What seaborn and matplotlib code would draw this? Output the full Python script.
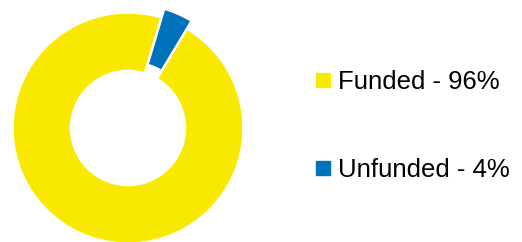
import matplotlib
matplotlib.use("Agg")
import matplotlib.pyplot as plt
from matplotlib.lines import Line2D
import seaborn as sns

sns.set_theme(style="white")
plt.rcParams["font.family"] = ["Liberation Sans", "DejaVu Sans"]

# Data
labels = ["Funded", "Unfunded"]
shares = [96, 4]
colors = ["#F9E800", "#0072BC"]
explode = [0, 0.08]

W, H = 522, 242
fig = plt.figure(figsize=(W / 100, H / 100), dpi=100)

# donut axes: centre (128, 128) px from top-left, outer radius 115 px
R, L = 115, 1.15
cx, cy = 128, H - 128
side = 2 * R * L
ax = fig.add_axes([(cx - side / 2) / W, (cy - side / 2) / H, side / W, side / H])
ax.pie(shares, colors=colors, explode=explode, startangle=59, counterclock=False,
       radius=1, wedgeprops=dict(width=0.5, edgecolor="white", linewidth=1))
ax.set_xlim(-L, L)
ax.set_ylim(-L, L)
ax.set_aspect("equal")
ax.axis("off")

handles = [Line2D([], [], marker="s", linestyle="none", markersize=9.5,
                  markerfacecolor=c, markeredgecolor=c) for c in colors]
leg_labels = [f"{l} - {v}%" for l, v in zip(labels, shares)]
leg = fig.legend(handles, leg_labels, loc="center left", bbox_to_anchor=(0.581, 0.478),
                 frameon=False, fontsize=18.5, labelspacing=2.5, handlelength=0.55,
                 handletextpad=0.3, borderpad=0)
for t in leg.get_texts():
    t.set_color("black")

fig.savefig("out.png", dpi=100)
